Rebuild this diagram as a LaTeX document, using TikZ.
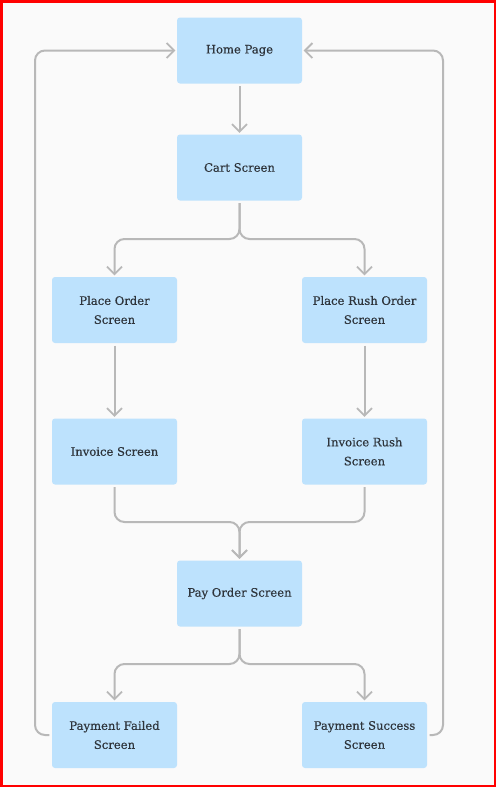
\documentclass[tikz,border=0pt]{standalone}
\usepackage{fontspec}
\setmainfont{DejaVu Serif}
\newfontfamily\boxfont{DejaVu Serif}[FakeBold=0.4]
\usetikzlibrary{arrows.meta}
\definecolor{bgc}{HTML}{FAFAFA}
\definecolor{boxc}{HTML}{BDE2FD}
\definecolor{linec}{HTML}{B8B8B8}
\definecolor{txtc}{HTML}{2E343B}
\begin{document}
\begin{tikzpicture}[x=1pt,y=-1pt,
  box/.style={fill=boxc, rounded corners=3pt, minimum width=125pt, minimum height=66pt,
    inner sep=0pt, align=center, text=txtc,
    font=\boxfont\fontsize{11.6pt}{19pt}\selectfont},
  conn/.style={draw=linec, line width=2pt, rounded corners=10pt,
    shorten >=1.5pt, shorten <=2.5pt,
    -{Straight Barb[length=7.5pt,width=15pt,line width=1.8pt]}}]
\useasboundingbox (0,0) rectangle (496,787);
\fill[bgc] (0,0) rectangle (496,787);
\draw[red, line width=2.5pt] (1.25,1.25) rectangle (494.75,785.75);
\node[box] (home) at (239.5,50.5) {Home Page};
\node[box] (cart) at (239.5,167.5) {Cart Screen};
\node[box] (po) at (114.5,310) {Place Order\\Screen};
\node[box] (pro) at (364.5,310) {Place Rush Order\\Screen};
\node[box] (inv) at (114.5,451.5) {Invoice Screen};
\node[box] (invr) at (364.5,451.5) {Invoice Rush\\Screen};
\node[box] (pay) at (239.5,593.5) {Pay Order Screen};
\node[box] (pf) at (114.5,735) {Payment Failed\\Screen};
\node[box] (ps) at (364.5,735) {Payment Success\\Screen};
\coordinate (j1) at (239.5,239);
\coordinate (j2) at (239.5,522);
\coordinate (j3) at (239.5,664);
\coordinate (lx) at (35,0);
\coordinate (rx) at (443,0);
\draw[conn] (home) -- (cart);
\draw[conn] (cart.south) |- (po.north |- j1) -- (po.north);
\draw[conn] (cart.south) |- (pro.north |- j1) -- (pro.north);
\draw[conn] (po) -- (inv);
\draw[conn] (pro) -- (invr);
\draw[conn] (inv.south) |- (j2) -- (pay.north);
\draw[conn] (invr.south) |- (j2) -- (pay.north);
\draw[conn] (pay.south) |- (pf.north |- j3) -- (pf.north);
\draw[conn] (pay.south) |- (ps.north |- j3) -- (ps.north);
\draw[conn] (pf.west) -| (lx |- home.west) -- (home.west);
\draw[conn] (ps.east) -| (rx |- home.east) -- (home.east);
\end{tikzpicture}
\end{document}
